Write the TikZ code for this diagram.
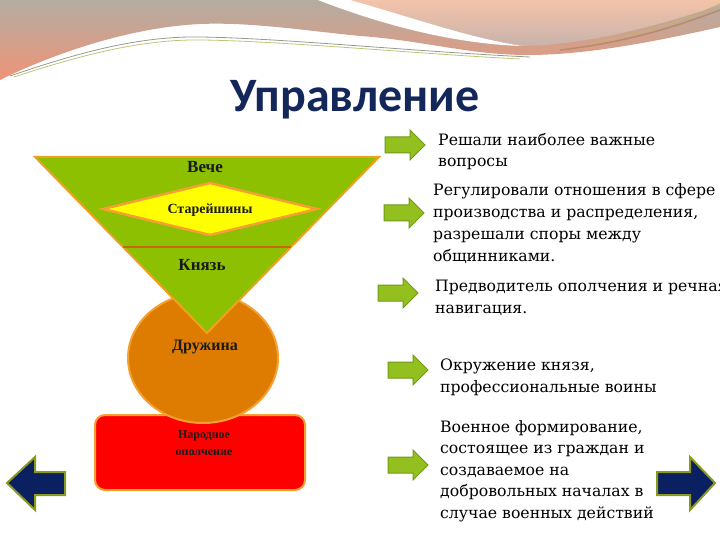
\documentclass[tikz,border=0pt]{standalone}
\usepackage{fontspec}
\setmainfont{DejaVu Serif}
\newfontfamily\titlef{Carlito}
\newfontfamily\labf{Liberation Serif}
\definecolor{bandgrey}{HTML}{B3ADA1}
\definecolor{bandsalmon}{HTML}{EF9478}
\definecolor{peachtop}{HTML}{F3C3AA}
\definecolor{peachbot}{HTML}{C9B3AB}
\definecolor{titlenavy}{HTML}{14275A}
\definecolor{trigreen}{HTML}{8CC000}
\definecolor{triedge}{HTML}{F0A020}
\definecolor{midline}{HTML}{C86A00}
\definecolor{diayellow}{HTML}{FFFF00}
\definecolor{circorange}{HTML}{DD7C00}
\definecolor{circedge}{HTML}{F5A030}
\definecolor{rectred}{HTML}{FF0000}
\definecolor{arrgreen}{HTML}{93C01F}
\definecolor{arredge}{HTML}{6F9A18}
\definecolor{navyarr}{HTML}{0A2060}
\definecolor{navyedge}{HTML}{8A9A20}
\definecolor{labtext}{HTML}{1A1A1A}
\tikzset{
  garrow/.pic={\draw[fill=arrgreen,draw=arredge,line width=1pt,line join=miter]
    (-20,-8) -- (5,-8) -- (5,-15) -- (20,0) -- (5,15) -- (5,8) -- (-20,8) -- cycle;},
  desc/.style={anchor=north west,align=left,inner sep=0pt,text=black,
    font=\fontsize{15.7}{22}\selectfont},
  lab/.style={inner sep=0pt,text=labtext,font=\labf\bfseries\fontsize{17}{20}\selectfont},
}
\begin{document}
\begin{tikzpicture}[x=1pt,y=-1pt]
\useasboundingbox (0,0) rectangle (720,540);
% header band
\shade[top color=bandgrey,bottom color=bandsalmon]
  (0,0) -- (720,0) -- (720,27) .. controls (640,45) and (580,55) .. (527,55)
  .. controls (470,55) and (420,40) .. (360,36)
  .. controls (300,30) and (250,22) .. (200,24)
  .. controls (120,28) and (40,60) .. (0,80) -- cycle;
\shade[top color=peachtop,bottom color=peachbot]
  (335,0) .. controls (410,18) and (470,38) .. (520,46)
  .. controls (590,45) and (660,25) .. (720,5) -- (720,0) -- cycle;
\fill[white] (318,0) -- (350,0) .. controls (420,20) and (470,38) .. (522,46)
  .. controls (460,44) and (390,28) .. (318,0) -- cycle;
\draw[color={rgb,255:red,184;green,138;blue,112},line width=1.5pt]
  (560,50) .. controls (630,42) and (680,25) .. (720,10);
\draw[color={rgb,255:red,200;green,176;blue,112},line width=1pt]
  (590,43) .. controls (640,35) and (690,18) .. (720,4);
\draw[color={rgb,255:red,150;green,155;blue,145},line width=0.8pt]
  (10,76) .. controls (80,52) and (140,36) .. (200,37)
  .. controls (280,38) and (420,52) .. (530,57);
\draw[color={rgb,255:red,190;green,195;blue,120},line width=0.8pt]
  (14,77) .. controls (84,54) and (144,39) .. (202,40)
  .. controls (282,41) and (420,54) .. (520,59);
% title
\node[anchor=base,inner sep=0pt,text=titlenavy,font=\titlef\bfseries\fontsize{48}{52}\selectfont]
  (title) at (355,112) {Управление};
% left figure
\draw[fill=rectred,draw=circedge,line width=2pt,rounded corners=10pt]
  (95,415) rectangle (305,490);
\node[lab,align=center,font=\labf\bfseries\fontsize{12}{17}\selectfont] (opol) at (204,443) {Народное\\ополчение};
\draw[fill=circorange,draw=circedge,line width=2pt] (203,358) ellipse [x radius=75,y radius=65];
\draw[fill=trigreen,draw=triedge,line width=2pt,line join=miter] (35,157) -- (379,157) -- (207,333) -- cycle;
\draw[midline,line width=2pt] (123,247) -- (291,247);
\draw[fill=diayellow,draw=circedge,line width=2.5pt] (103,209) -- (210,183) -- (317,209) -- (210,235) -- cycle;
\node[lab] (veche) at (205,167) {Вече};
\node[lab,font=\labf\bfseries\fontsize{14}{16}\selectfont] (star) at (210,210) {Старейшины};
\node[lab] (knyaz) at (202,265) {Князь};
\node[lab,font=\labf\bfseries\fontsize{16}{18}\selectfont] (druzh) at (205,347) {Дружина};
% green arrows
\pic at (405,145) {garrow};
\pic at (404,213) {garrow};
\pic at (398,293) {garrow};
\pic at (408,370) {garrow};
\pic at (408,465) {garrow};
% texts
\node[desc,font=\fontsize{15.7}{21}\selectfont] (t1) at (438,133) {Решали наиболее важные\\вопросы};
\node[desc] (t2) at (433,183) {Регулировали отношения в сфере\\производства и распределения,\\разрешали споры между\\общинниками.};
\node[desc] (t3) at (435,280) {Предводитель ополчения и речная\\навигация.};
\node[desc] (t4) at (440,359) {Окружение князя,\\профессиональные воины};
\node[desc,font=\fontsize{15.7}{21.5}\selectfont] (t5) at (440,420) {Военное формирование,\\состоящее из граждан и\\создаваемое на\\добровольных началах в\\случае военных действий};
% navigation arrows
\draw[fill=navyarr,draw=navyedge,line width=2pt,line join=miter]
  (7,483) -- (35,457) -- (35,472) -- (65,472) -- (65,495) -- (35,495) -- (35,510) -- cycle;
\draw[fill=navyarr,draw=navyedge,line width=2pt,line join=miter]
  (715,483) -- (690,457) -- (690,472) -- (657,472) -- (657,495) -- (690,495) -- (690,510) -- cycle;
\end{tikzpicture}
\end{document}
